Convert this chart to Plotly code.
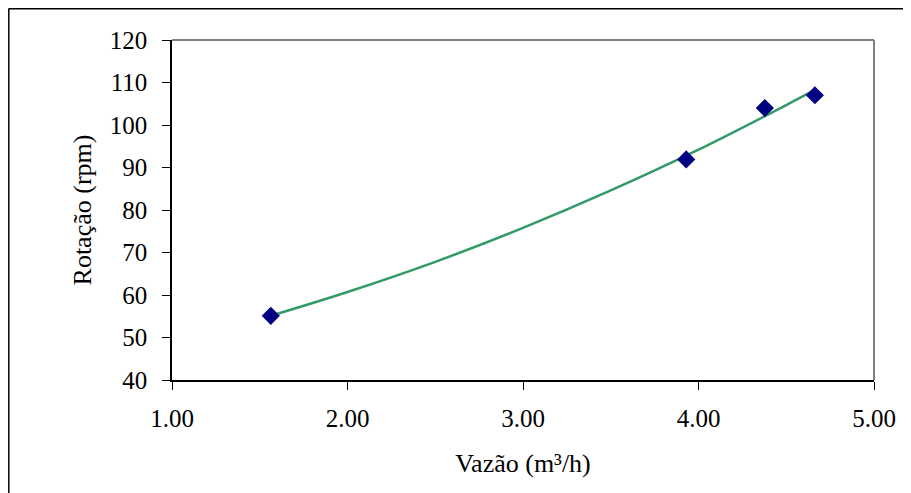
import plotly.graph_objects as go

# Measured points
vazao = [1.563, 3.93, 4.378, 4.663]
rotacao = [55.1, 91.9, 104.0, 107.0]

# Trend line
trend_x = [1.57, 2.0, 2.5, 3.0, 3.5, 4.0, 4.5, 4.66]
trend_y = [55.2, 60.7, 67.8, 75.8, 84.6, 94.2, 104.7, 108.2]

x_ticks = [1.0, 2.0, 3.0, 4.0, 5.0]
x_labels = ["1.00", "2.00", "3.00", "4.00", "5.00"]
y_ticks = [40, 50, 60, 70, 80, 90, 100, 110, 120]

# page has an 8px body margin, so the figure is offset by (8, 8)
OFF = 8
W, H = 911 - OFF, 493 - OFF
L, R, T, B = 172 - OFF, 37, 40 - OFF, 113
pw, ph = W - L - R, H - T - B

def px(xp):
    return (xp - OFF - L) / pw

def py(yp):
    return 1 - (yp - OFF - T) / ph

tick_font = dict(family="Liberation Serif, Times New Roman, serif", size=25, color="black")
title_font = dict(family="Liberation Serif, Times New Roman, serif", size=26, color="black")

fig = go.Figure()
fig.add_trace(go.Scatter(x=trend_x, y=trend_y, mode="lines",
                         line=dict(color="#339966", width=2.5, shape="spline"),
                         showlegend=False, hoverinfo="skip"))
fig.add_trace(go.Scatter(x=vazao, y=rotacao, mode="markers",
                         marker=dict(symbol="diamond", size=14, color="#000080",
                                     line=dict(width=0)),
                         showlegend=False))

fig.update_layout(
    width=W, height=H,
    margin=dict(l=L, r=R, t=T, b=B),
    paper_bgcolor="white", plot_bgcolor="white",
    font=tick_font,
    xaxis=dict(range=[1, 5], tickvals=x_ticks, ticktext=x_labels,
               showgrid=False, zeroline=False,
               showline=True, linecolor="black", linewidth=1.5,
               ticks="outside", ticklen=8, tickcolor="black", tickwidth=1,
               ticklabelstandoff=7, tickfont=tick_font,
               title=dict(text="Vazão (m³/h)", font=title_font, standoff=23)),
    yaxis=dict(range=[40, 120], tickvals=y_ticks,
               showgrid=False, zeroline=False,
               showline=True, linecolor="black", linewidth=1.5,
               ticks="outside", ticklen=8, tickcolor="black", tickwidth=1,
               ticklabelstandoff=10, tickfont=tick_font,
               title=dict(text="Rotação (rpm)", font=title_font, standoff=11)),
    shapes=[
        # plot area gray border (top, right)
        dict(type="line", xref="paper", yref="paper", x0=0, x1=1, y0=1, y1=1,
             line=dict(color="#808080", width=2)),
        dict(type="line", xref="paper", yref="paper", x0=1, x1=1, y0=0, y1=1,
             line=dict(color="#808080", width=2)),
        # outer chart border (top, left)
        dict(type="line", xref="paper", yref="paper", x0=px(8.5), x1=px(911 + 2),
             y0=py(8.8), y1=py(8.8), line=dict(color="black", width=1.5)),
        dict(type="line", xref="paper", yref="paper", x0=px(8.8), x1=px(8.8),
             y0=py(8.8), y1=py(493 + 2), line=dict(color="black", width=1.5)),
    ],
)

fig.write_html("out.html")
